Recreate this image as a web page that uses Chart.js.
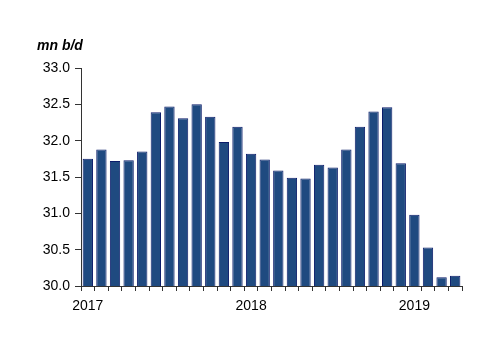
<!DOCTYPE html>
<html>
<head>
<meta charset="utf-8">
<script src="https://cdn.jsdelivr.net/npm/chart.js@4/dist/chart.umd.min.js"></script>
<style>
  body { margin: 0; background: #fff; }
</style>
</head>
<body>
<canvas id="oilChart" width="500" height="353"></canvas>
<script>
const months = ['2017-01','2017-02','2017-03','2017-04','2017-05','2017-06','2017-07','2017-08','2017-09','2017-10','2017-11','2017-12',
  '2018-01','2018-02','2018-03','2018-04','2018-05','2018-06','2018-07','2018-08','2018-09','2018-10','2018-11','2018-12',
  '2019-01','2019-02','2019-03','2019-04'];
const production = [31.75, 31.88, 31.72, 31.73, 31.85, 32.39, 32.47, 32.31, 32.50, 32.33, 31.98, 32.19,
  31.82, 31.74, 31.59, 31.49, 31.48, 31.67, 31.63, 31.88, 32.19, 32.40, 32.46, 31.69,
  30.98, 30.53, 30.12, 30.14];
const yTicks = [30.0, 30.5, 31.0, 31.5, 32.0, 32.5, 33.0];
const unitLabel = 'mn b/d';

const fontFamily = '"Liberation Sans", Arial, Helvetica, sans-serif';

// draws the unit label above the y axis labels
const unitPlugin = {
  id: 'unitLabel',
  afterDraw(chart) {
    const ctx = chart.ctx;
    ctx.save();
    ctx.font = 'italic bold 14px ' + fontFamily;
    ctx.fillStyle = '#000';
    ctx.textBaseline = 'middle';
    ctx.fillText(unitLabel, 37, 46);
    ctx.restore();
  }
};

new Chart(document.getElementById('oilChart').getContext('2d'), {
  type: 'bar',
  data: {
    labels: months,
    datasets: [{
      data: production,
      backgroundColor: '#1f4a80',
      borderColor: '#0b1c6a',
      borderWidth: 1,
      categoryPercentage: 1.0,
      barPercentage: 0.76
    }]
  },
  options: {
    responsive: false,
    animation: false,
    layout: { padding: { top: 68, right: 38, bottom: 0, left: 0 } },
    plugins: { legend: { display: false }, tooltip: { enabled: false } },
    scales: {
      x: {
        offset: true,
        afterFit(scale) { scale.height = 67; },
        grid: { drawOnChartArea: false, tickLength: 5, color: '#333', offset: true },
        border: { color: '#333' },
        ticks: {
          autoSkip: false,
          maxRotation: 0,
          padding: 7,
          color: '#000',
          font: { family: fontFamily, size: 14 },
          callback(value, index) {
            const m = months[index];
            return m.endsWith('-01') ? m.slice(0, 4) : '';
          }
        }
      },
      y: {
        min: 30,
        max: 33,
        afterFit(scale) { scale.width = 81; },
        afterBuildTicks(scale) { scale.ticks = yTicks.map(v => ({ value: v })); },
        grid: { drawOnChartArea: false, tickLength: 6, color: '#333' },
        border: { color: '#333' },
        ticks: {
          padding: 5,
          color: '#000',
          font: { family: fontFamily, size: 14 },
          callback(value) { return Number(value).toFixed(1); }
        }
      }
    }
  },
  plugins: [unitPlugin]
});
</script>
</body>
</html>
